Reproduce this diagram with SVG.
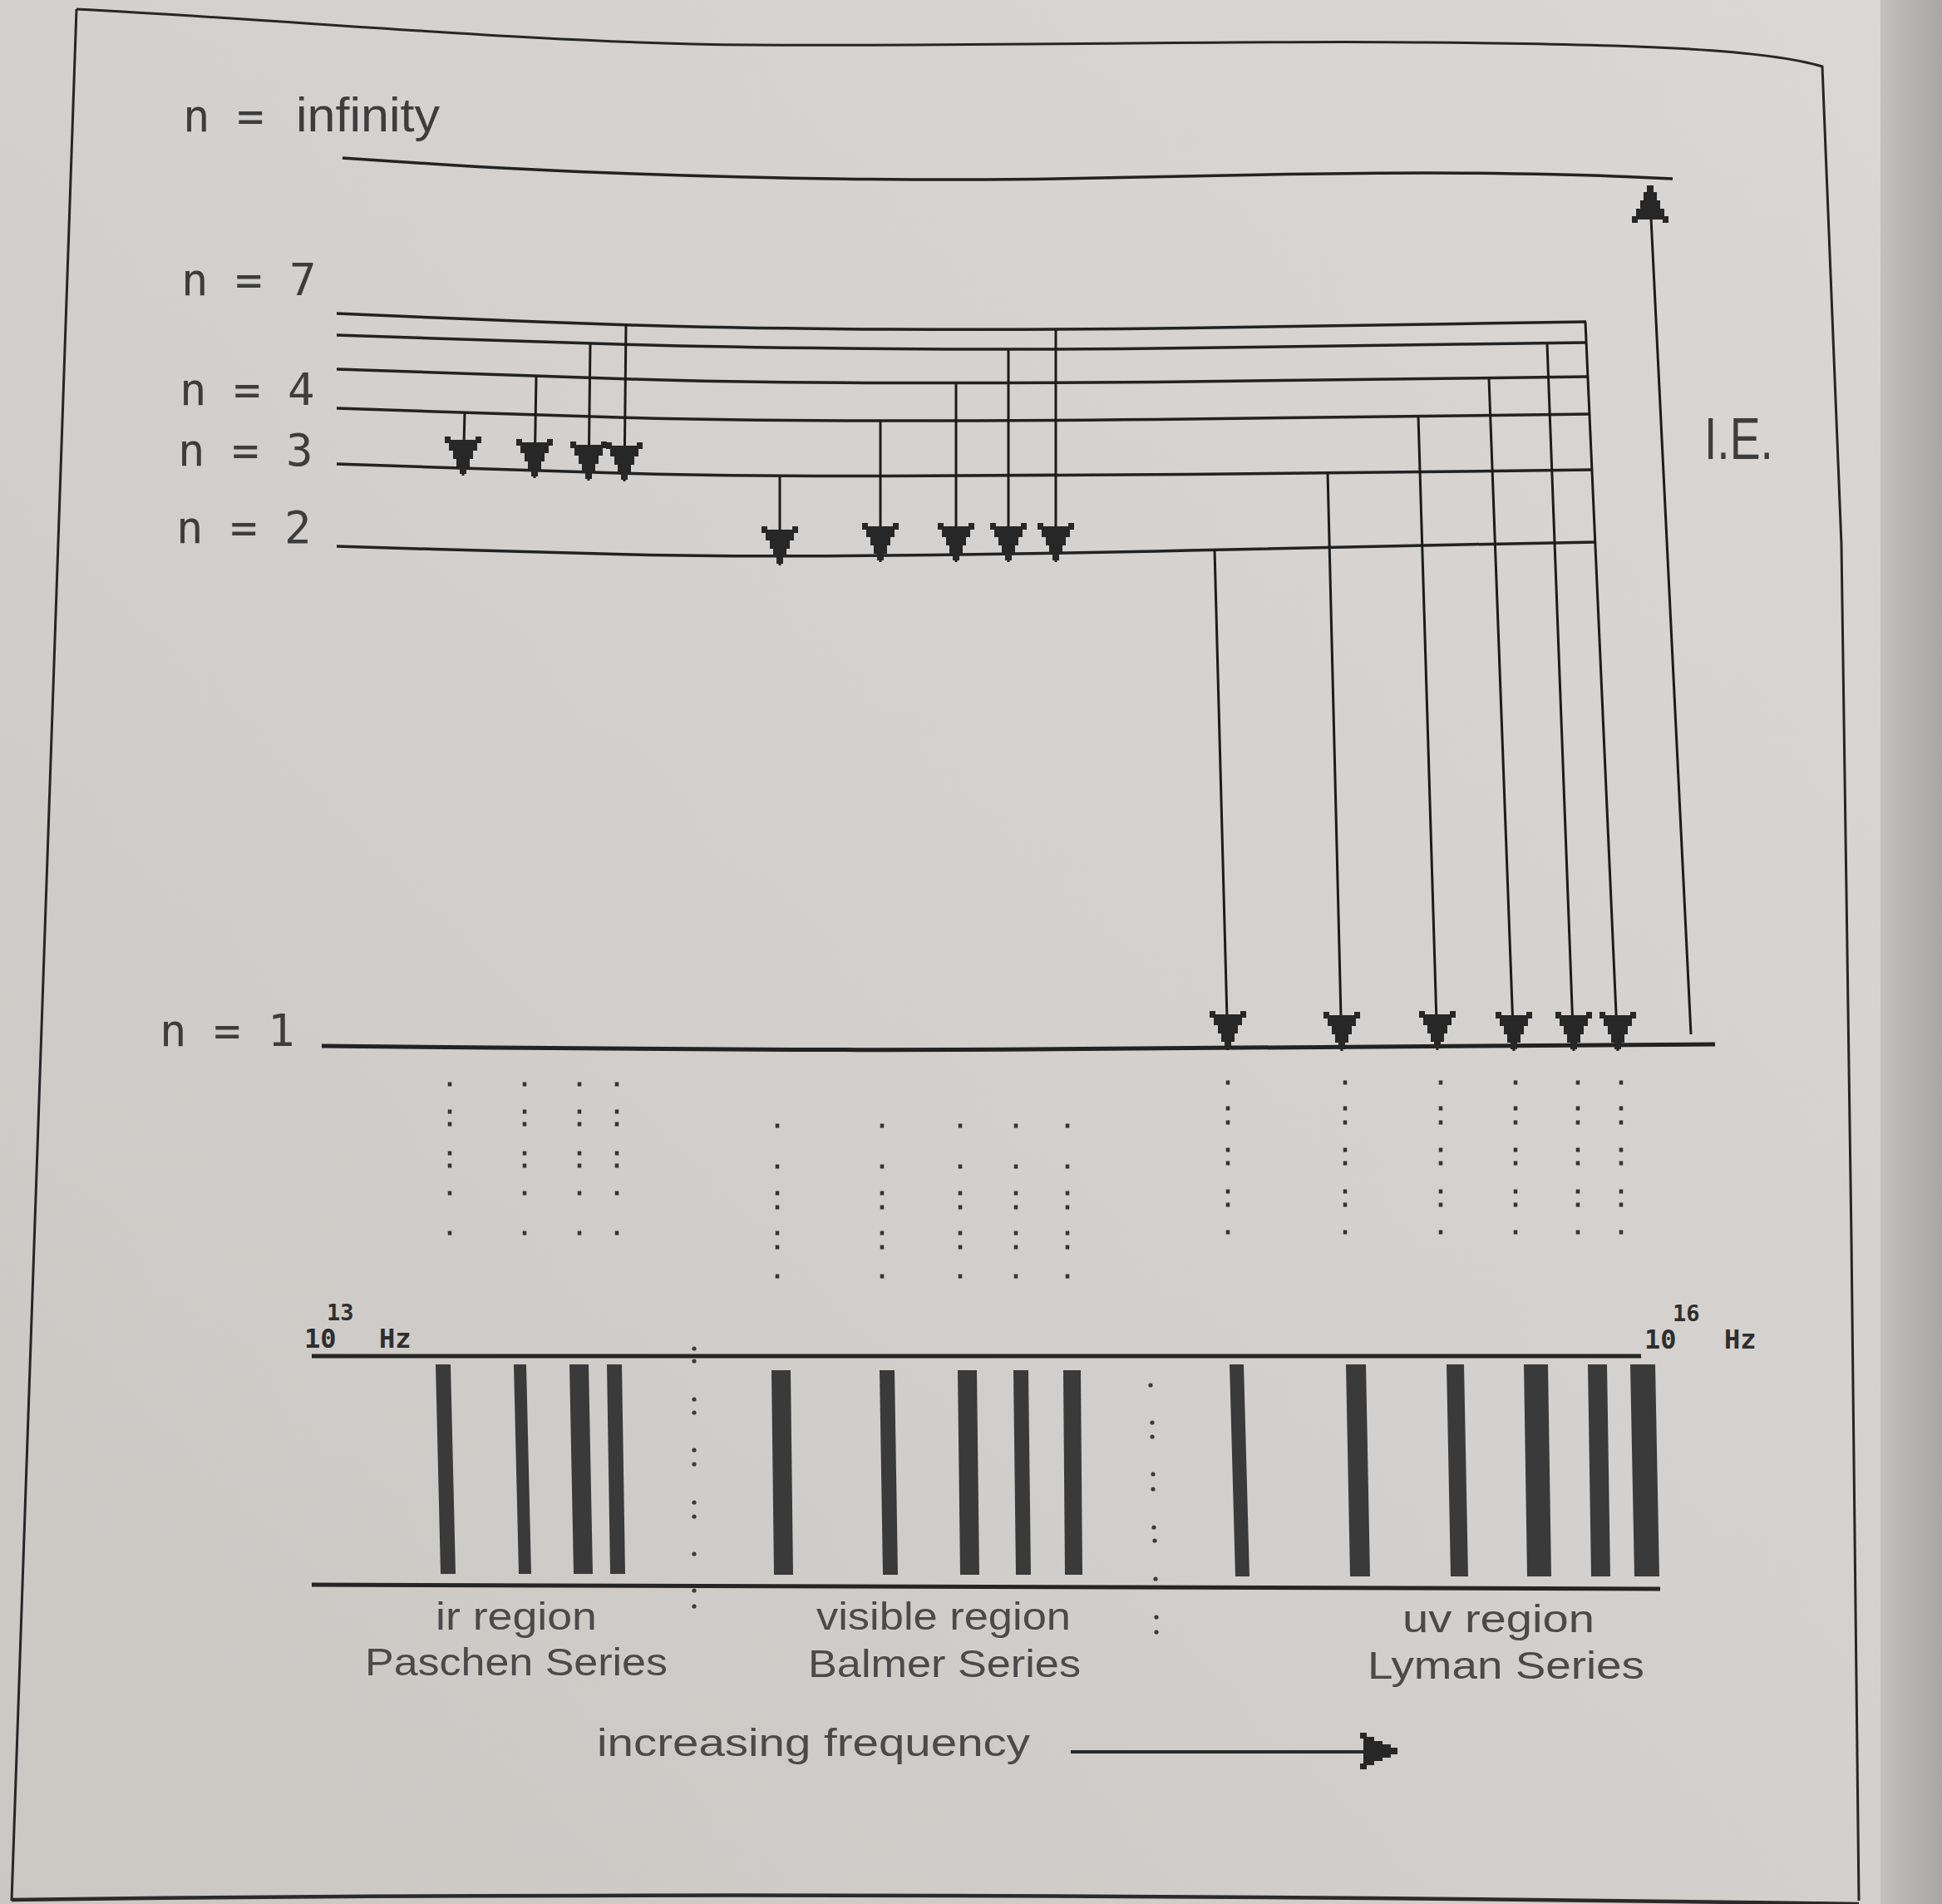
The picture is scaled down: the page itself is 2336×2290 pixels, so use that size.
<svg xmlns="http://www.w3.org/2000/svg" xmlns:xlink="http://www.w3.org/1999/xlink" width="2336" height="2290" viewBox="0 0 2336 2290">
<defs>
<linearGradient id="paper" x1="1" y1="0" x2="0" y2="1">
<stop offset="0" stop-color="#dad7d5"/>
<stop offset="0.5" stop-color="#d3d0cd"/>
<stop offset="1" stop-color="#cbc7c3"/>
</linearGradient>
<linearGradient id="edge" x1="0" y1="0" x2="1" y2="0">
<stop offset="0" stop-color="#c4c0bd"/>
<stop offset="1" stop-color="#a9a5a3"/>
</linearGradient>
<path id="ah" d="M-22,-45 H-15 V-41 H15 V-45 H22 V-37 H17 V-28 H12 V-18 H8 V-8 H4 V0 H-4 V-8 H-8 V-18 H-12 V-28 H-17 V-37 H-22 Z"/>
<style>
.frame{fill:none;stroke:#262626;stroke-width:3}
.lvl{fill:none;stroke:#222;stroke-width:3.5;stroke-linejoin:round}
.g1{fill:none;stroke:#222;stroke-width:5;stroke-linejoin:round}
.tr{fill:none;stroke:#1c1c1c;stroke-width:3}
.ah{fill:#272727}
.lab{font-family:"DejaVu Sans Mono","Liberation Mono",monospace;font-size:54px;fill:#3d3d3d}
.thin{font-family:"Liberation Sans",Arial,sans-serif;fill:#3d3d3d}
.pix{font-family:"Liberation Sans",Arial,sans-serif;font-size:46px;fill:#4a4a4a}
.hz{font-family:"DejaVu Sans Mono","Liberation Mono",monospace;font-weight:bold;fill:#2e2e2e}
.bar{fill:#3a3a3a}
.dp{fill:none;stroke:#333;stroke-width:4.5;stroke-dasharray:5 28 5 10 5 30 5 10 5 28 5 43 5 100}
.db{fill:none;stroke:#333;stroke-width:4.5;stroke-dasharray:5 44 5 27 5 12 5 26 5 12 5 30 5 100}
.dl{fill:none;stroke:#333;stroke-width:4.5;stroke-dasharray:5 26 5 12 5 28 5 11 5 29 5 11 5 28 5 100}
.sd{fill:#3a3a3a}
</style>
</defs>

<rect x="0" y="0" width="2336" height="2290" fill="url(#paper)"/>
<rect x="2262" y="0" width="74" height="2290" fill="url(#edge)"/>

<g id="frame">
<path class="frame" d="M92,11 C350,24 650,52 900,54 C1200,56 1500,48 1714,51 C1950,53 2120,58 2192,80 L2215,655 L2227,1490 L2236,2286"/>
<path class="frame" d="M92,11 L14,2286"/>
<path d="M14,2285 Q1000,2272 2236,2290" fill="none" stroke="#2a2a2a" stroke-width="4.5"/>
</g>

<g id="level-inf">
<path class="lvl" stroke-width="3" d="M412,190 L519,197 Q626,204 763,209 Q900,214 1046,215.5 Q1192,217 1296,214.5 Q1400,212 1549,209.5 Q1698,207 1799,208.5 Q1900,210 1956,212.5 L2012,215"/>
<text class="lab" x="220" y="158">n =</text>
<text class="thin" x="356" y="158" font-size="58" textLength="173" lengthAdjust="spacingAndGlyphs">infinity</text>
</g>
<g id="level-7">
<path class="lvl" d="M405,377 L522.5,382 Q640,387 760,391 Q880,395 1069.5,396 Q1259,397 1429.5,394.5 Q1600,392 1754,389.5 L1908,387"/>
<text class="lab" x="218" y="355">n = 7</text>
</g>
<g id="level-6">
<path class="lvl" d="M405,403 L522.5,407 Q640,411 760,414.5 Q880,418 1069.5,419.5 Q1259,421 1429.5,418.5 Q1600,416 1754,414 L1908,412"/>
</g>
<g id="level-5">
<path class="lvl" d="M405,444 L522.5,448 Q640,452 760,456 Q880,460 1069.5,460.5 Q1259,461 1429.5,459 Q1600,457 1755,455 L1910,453"/>
</g>
<g id="level-4">
<path class="lvl" d="M405,491 L522.5,495 Q640,499 760,502.5 Q880,506 1069.5,506 Q1259,506 1429.5,504 Q1600,502 1756,500 L1912,498"/>
<text class="lab" x="216" y="487">n = 4</text>
</g>
<g id="level-3">
<path class="lvl" d="M405,558 L522.5,562 Q640,566 760,569.5 Q880,573 1069.5,572.5 Q1259,572 1429.5,570.5 Q1600,569 1757.5,567 L1915,565"/>
<text class="lab" x="214" y="560">n = 3</text>
</g>
<g id="level-2">
<path class="lvl" d="M405,657 L522.5,660.5 Q640,664 760,667 Q880,670 1069.5,668 Q1259,666 1429.5,662 Q1600,658 1759.5,655 L1919,652"/>
<text class="lab" x="212" y="653">n = 2</text>
</g>
<g id="level-1">
<path class="g1" d="M387,1258 L593.5,1260 Q800,1262 952,1262.5 Q1104,1263 1302,1261.5 Q1500,1260 1781.5,1258 L2063,1256"/>
<text class="lab" x="192" y="1258">n = 1</text>
</g>
<g id="ie-label">
<text class="thin" x="2050" y="552" font-size="70" textLength="83" lengthAdjust="spacingAndGlyphs">I.E.</text>
</g>

<g id="connectors">
<line class="tr" x1="559" y1="496" x2="557" y2="572"/>
<line class="tr" x1="645" y1="452" x2="643" y2="575"/>
<line class="tr" x1="710" y1="413" x2="708" y2="578"/>
<line class="tr" x1="753" y1="390" x2="751" y2="579"/>
<use href="#ah" class="ah" x="557" y="570"/>
<use href="#ah" class="ah" x="643" y="573"/>
<use href="#ah" class="ah" x="708" y="576"/>
<use href="#ah" class="ah" x="751" y="577"/>
<line class="tr" x1="938" y1="573" x2="938" y2="680"/>
<line class="tr" x1="1059" y1="507" x2="1059" y2="676"/>
<line class="tr" x1="1150" y1="462" x2="1150" y2="676"/>
<line class="tr" x1="1213" y1="421" x2="1213" y2="676"/>
<line class="tr" x1="1270" y1="397" x2="1270" y2="676"/>
<use href="#ah" class="ah" x="938" y="678"/>
<use href="#ah" class="ah" x="1059" y="674"/>
<use href="#ah" class="ah" x="1150" y="674"/>
<use href="#ah" class="ah" x="1213" y="674"/>
<use href="#ah" class="ah" x="1270" y="674"/>
<line class="tr" x1="1461" y1="661" x2="1477" y2="1263"/>
<line class="tr" x1="1597" y1="568" x2="1614" y2="1264"/>
<line class="tr" x1="1706" y1="500" x2="1729" y2="1263"/>
<line class="tr" x1="1791" y1="455" x2="1821" y2="1264"/>
<line class="tr" x1="1861" y1="413" x2="1893" y2="1264"/>
<line class="tr" x1="1907" y1="387" x2="1946" y2="1264"/>
<use href="#ah" class="ah" x="1477" y="1261"/>
<use href="#ah" class="ah" x="1614" y="1262"/>
<use href="#ah" class="ah" x="1729" y="1261"/>
<use href="#ah" class="ah" x="1821" y="1262"/>
<use href="#ah" class="ah" x="1893" y="1262"/>
<use href="#ah" class="ah" x="1946" y="1262"/>
<line class="tr" x1="2034" y1="1244" x2="1986" y2="262"/>
<use href="#ah" class="ah" transform="translate(1985,223) rotate(180)"/>
</g>

<g id="projection-dots">
<line class="dp" x1="541" y1="1301.5" x2="541" y2="1486"/>
<line class="dp" x1="631" y1="1301.5" x2="631" y2="1486"/>
<line class="dp" x1="697" y1="1301.5" x2="697" y2="1486"/>
<line class="dp" x1="742" y1="1301.5" x2="742" y2="1486"/>
<line class="db" x1="935" y1="1351.5" x2="935" y2="1538"/>
<line class="db" x1="1061" y1="1351.5" x2="1061" y2="1538"/>
<line class="db" x1="1155" y1="1351.5" x2="1155" y2="1538"/>
<line class="db" x1="1222" y1="1351.5" x2="1222" y2="1538"/>
<line class="db" x1="1284" y1="1351.5" x2="1284" y2="1538"/>
<line class="dl" x1="1477" y1="1299.5" x2="1477" y2="1485"/>
<line class="dl" x1="1618" y1="1299.5" x2="1618" y2="1485"/>
<line class="dl" x1="1733" y1="1299.5" x2="1733" y2="1485"/>
<line class="dl" x1="1823" y1="1299.5" x2="1823" y2="1485"/>
<line class="dl" x1="1898" y1="1299.5" x2="1898" y2="1485"/>
<line class="dl" x1="1950" y1="1299.5" x2="1950" y2="1485"/>
</g>

<g id="spectrum">
<line x1="375" y1="1631" x2="1974" y2="1631" stroke="#252525" stroke-width="5"/>
<line x1="375" y1="1906" x2="1997" y2="1911" stroke="#252525" stroke-width="5"/>
<text class="hz" x="366" y="1621" font-size="32">10</text>
<text class="hz" x="393" y="1588" font-size="27">13</text>
<text class="hz" x="456" y="1621" font-size="32">Hz</text>
<text class="hz" x="1978" y="1622" font-size="32">10</text>
<text class="hz" x="2012" y="1589" font-size="27">16</text>
<text class="hz" x="2074" y="1622" font-size="32">Hz</text>
<polygon class="bar" points="524,1641 542,1641 548,1893 530,1893"/>
<polygon class="bar" points="618,1641 633,1641 639,1893 624,1893"/>
<polygon class="bar" points="685,1641 708,1641 713,1893 690,1893"/>
<polygon class="bar" points="730,1641 748,1641 752,1893 734,1893"/>
<polygon class="bar" points="928,1648 951,1648 954,1894 931,1894"/>
<polygon class="bar" points="1058,1648 1076,1648 1080,1894 1062,1894"/>
<polygon class="bar" points="1152,1648 1175,1648 1178,1894 1155,1894"/>
<polygon class="bar" points="1219,1648 1237,1648 1240,1894 1222,1894"/>
<polygon class="bar" points="1279,1648 1300,1648 1302,1894 1281,1894"/>
<polygon class="bar" points="1479,1641 1496,1641 1503,1896 1486,1896"/>
<polygon class="bar" points="1619,1641 1643,1641 1648,1896 1624,1896"/>
<polygon class="bar" points="1740,1641 1761,1641 1766,1896 1745,1896"/>
<polygon class="bar" points="1833,1641 1862,1641 1866,1896 1837,1896"/>
<polygon class="bar" points="1910,1641 1933,1641 1937,1896 1914,1896"/>
<polygon class="bar" points="1961,1641 1991,1641 1996,1896 1966,1896"/>
<g class="sd">
<circle cx="835" cy="1622" r="2.6"/><circle cx="835" cy="1637" r="2.6"/>
<circle cx="835" cy="1683" r="2.6"/><circle cx="835" cy="1699" r="2.6"/>
<circle cx="835" cy="1744" r="2.6"/><circle cx="835" cy="1761" r="2.6"/>
<circle cx="835" cy="1807" r="2.6"/><circle cx="835" cy="1824" r="2.6"/>
<circle cx="835" cy="1869" r="2.6"/><circle cx="835" cy="1913" r="2.6"/>
<circle cx="835" cy="1932" r="2.6"/>
<circle cx="1384" cy="1666" r="2.6"/><circle cx="1386" cy="1711" r="2.6"/>
<circle cx="1386" cy="1728" r="2.6"/><circle cx="1387" cy="1773" r="2.6"/>
<circle cx="1387" cy="1791" r="2.6"/><circle cx="1388" cy="1837" r="2.6"/>
<circle cx="1389" cy="1853" r="2.6"/><circle cx="1390" cy="1899" r="2.6"/>
<circle cx="1391" cy="1945" r="2.6"/><circle cx="1391" cy="1963" r="2.6"/>
</g>
</g>

<g id="region-labels">
<text class="pix" x="524" y="1960" textLength="194" lengthAdjust="spacingAndGlyphs">ir region</text>
<text class="pix" x="439" y="2015" textLength="364" lengthAdjust="spacingAndGlyphs">Paschen Series</text>
<text class="pix" x="982" y="1960" textLength="306" lengthAdjust="spacingAndGlyphs">visible region</text>
<text class="pix" x="972" y="2017" textLength="328" lengthAdjust="spacingAndGlyphs">Balmer Series</text>
<text class="pix" x="1687" y="1963" textLength="231" lengthAdjust="spacingAndGlyphs">uv region</text>
<text class="pix" x="1645" y="2019" textLength="333" lengthAdjust="spacingAndGlyphs">Lyman Series</text>
</g>

<g id="frequency-axis">
<text class="pix" x="718" y="2112" textLength="521" lengthAdjust="spacingAndGlyphs">increasing frequency</text>
<line x1="1288" y1="2107" x2="1650" y2="2107" stroke="#2a2a2a" stroke-width="4"/>
<use href="#ah" class="ah" transform="translate(1681,2106) rotate(-90)"/>
</g>
</svg>
